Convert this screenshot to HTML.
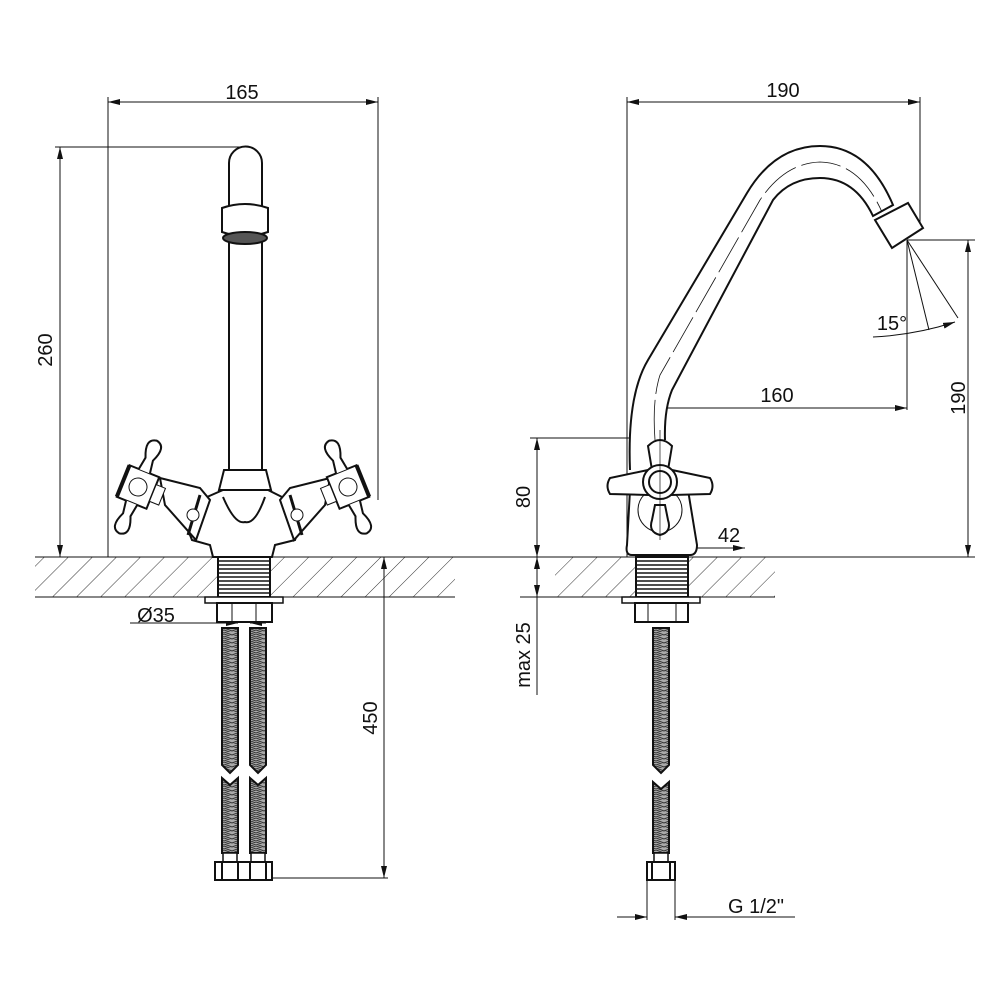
<!DOCTYPE html>
<html><head><meta charset="utf-8"><style>
html,body{margin:0;padding:0;background:#fff}
svg{display:block}
text{font-family:"Liberation Sans",sans-serif;font-size:20px;fill:#111}
</style></head><body>
<svg width="1000" height="1000" viewBox="0 0 1000 1000" xmlns="http://www.w3.org/2000/svg">
<defs>
<pattern id="hatch" patternUnits="userSpaceOnUse" width="17" height="17" patternTransform="rotate(45)">
<line x1="0" y1="0" x2="0" y2="17" stroke="#333" stroke-width="1"/>
</pattern>
<pattern id="hose" patternUnits="userSpaceOnUse" width="16" height="4">
<rect width="16" height="4" fill="#aaa"/>
<path d="M0,0 L8,3 L16,0 M0,2 L8,5 L16,2" stroke="#333" stroke-width="1" fill="none"/>
</pattern>
<pattern id="thread" patternUnits="userSpaceOnUse" width="10" height="4">
<line x1="0" y1="1" x2="10" y2="1" stroke="#222" stroke-width="1.6"/>
</pattern>
<marker id="ar" markerWidth="12" markerHeight="6" refX="12" refY="3" orient="auto" markerUnits="userSpaceOnUse">
<path d="M0,0 L12,3 L0,6 z" fill="#111"/>
</marker>
<marker id="al" markerWidth="12" markerHeight="6" refX="0" refY="3" orient="auto" markerUnits="userSpaceOnUse">
<path d="M12,0 L0,3 L12,6 z" fill="#111"/>
</marker>
</defs>

<g stroke="#111" stroke-width="1" fill="none">
<rect x="35" y="557" width="183" height="40" fill="url(#hatch)" stroke="none"/>
<rect x="270" y="557" width="185" height="40" fill="url(#hatch)" stroke="none"/>
<rect x="555" y="557" width="81" height="40" fill="url(#hatch)" stroke="none"/>
<rect x="688" y="557" width="87" height="40" fill="url(#hatch)" stroke="none"/>
<line x1="35" y1="557" x2="975" y2="557"/>
<line x1="35" y1="597" x2="455" y2="597"/>
<line x1="520" y1="597" x2="775" y2="597"/>

<line x1="108" y1="97" x2="108" y2="557"/>
<line x1="378" y1="97" x2="378" y2="500"/>
<line x1="108" y1="102" x2="378" y2="102" marker-start="url(#al)" marker-end="url(#ar)"/>
<line x1="55" y1="147" x2="245" y2="147"/>
<line x1="60" y1="147" x2="60" y2="557" marker-start="url(#al)" marker-end="url(#ar)"/>
<line x1="384" y1="557" x2="384" y2="878" marker-start="url(#al)" marker-end="url(#ar)"/>
<line x1="272" y1="878" x2="388" y2="878"/>
<line x1="130" y1="623" x2="222" y2="623"/>
<line x1="222" y1="623" x2="238" y2="623" marker-end="url(#ar)"/>
<line x1="266" y1="623" x2="250" y2="623" marker-end="url(#ar)"/>

<path d="M229,470 L229,163 A16.5,16.5 0 0 1 262,163 L262,470" fill="#fff" stroke-width="2"/>
<path d="M222,208 Q245,200 268,208 L268,232 Q245,240 222,232 Z" fill="#fff" stroke-width="2"/>
<ellipse cx="245" cy="238" rx="22" ry="6" fill="#555" stroke-width="2"/>
<path d="M224,470 L266,470 L271,490 L219,490 Z" fill="#fff" stroke-width="2"/>
<path d="M207,497 L223,490 L268,490 L282,497 L300,525 L295,540 L275,545 L272,557 L213,557 L210,545 L192,540 L186,525 Z" fill="#fff" stroke-width="2"/>
<path d="M223,497 Q235,525 245,522 Q255,525 265,497" stroke-width="2"/>
<path d="M160,478 L200,488 L210,500 L196,540 L165,505 Z" fill="#fff" stroke-width="2"/>
<path d="M280,500 L290,488 L330,478 L325,505 L294,540 Z" fill="#fff" stroke-width="2"/>
<line x1="200" y1="495" x2="188" y2="535" stroke-width="3"/>
<line x1="290" y1="495" x2="302" y2="535" stroke-width="3"/>
<circle cx="193" cy="515" r="6" fill="#fff"/>
<circle cx="297" cy="515" r="6" fill="#fff"/>
<g transform="translate(138,487) rotate(22)">
<rect x="-16" y="-17" width="32" height="34" fill="#fff" stroke-width="2"/>
<circle cx="0" cy="0" r="9" fill="#fff"/>
<rect x="16" y="-9" width="10" height="18" fill="#fff"/>
<line x1="-16" y1="-17" x2="-16" y2="17" stroke-width="4"/>
<path d="M-6,-17 L-4,-30 Q-12,-48 0,-50 Q12,-48 4,-30 L6,-17" fill="#fff" stroke-width="2"/>
<path d="M-6,17 L-4,30 Q-12,48 0,50 Q12,48 4,30 L6,17" fill="#fff" stroke-width="2"/>
</g>
<g transform="translate(348,487) rotate(-22)">
<rect x="-16" y="-17" width="32" height="34" fill="#fff" stroke-width="2"/>
<circle cx="0" cy="0" r="9" fill="#fff"/>
<rect x="-26" y="-9" width="10" height="18" fill="#fff"/>
<line x1="16" y1="-17" x2="16" y2="17" stroke-width="4"/>
<path d="M-6,-17 L-4,-30 Q-12,-48 0,-50 Q12,-48 4,-30 L6,-17" fill="#fff" stroke-width="2"/>
<path d="M-6,17 L-4,30 Q-12,48 0,50 Q12,48 4,30 L6,17" fill="#fff" stroke-width="2"/>
</g>
<rect x="218" y="557" width="52" height="40" fill="url(#thread)" stroke-width="2"/>
<rect x="205" y="597" width="78" height="6" fill="#fff" stroke-width="1.5"/>
<rect x="217" y="603" width="55" height="19" fill="#fff" stroke-width="2"/>
<line x1="232" y1="603" x2="232" y2="622"/><line x1="256" y1="603" x2="256" y2="622"/>
<g stroke-width="2">
<path d="M222,628 L238,628 L238,765 L230,773 L222,765 Z" fill="url(#hose)"/>
<path d="M250,628 L266,628 L266,765 L258,773 L250,765 Z" fill="url(#hose)"/>
<path d="M222,778 L230,785 L238,778 L238,853 L222,853 Z" fill="url(#hose)"/>
<path d="M250,778 L258,785 L266,778 L266,853 L250,853 Z" fill="url(#hose)"/>
<rect x="223" y="853" width="14" height="9" fill="#fff" stroke-width="1.5"/>
<rect x="251" y="853" width="14" height="9" fill="#fff" stroke-width="1.5"/>
<rect x="215" y="862" width="57" height="18" fill="#fff"/>
<line x1="222" y1="862" x2="222" y2="880"/><line x1="238" y1="862" x2="238" y2="880"/>
<line x1="250" y1="862" x2="250" y2="880"/><line x1="266" y1="862" x2="266" y2="880"/>
</g>

<line x1="627" y1="97" x2="627" y2="557"/>
<line x1="920" y1="97" x2="920" y2="228"/>
<line x1="627" y1="102" x2="920" y2="102" marker-start="url(#al)" marker-end="url(#ar)"/>
<line x1="907" y1="240" x2="975" y2="240"/>
<line x1="968" y1="240" x2="968" y2="557" marker-start="url(#al)" marker-end="url(#ar)"/>
<line x1="907" y1="240" x2="907" y2="410"/>
<line x1="650" y1="408" x2="907" y2="408" marker-start="url(#al)" marker-end="url(#ar)"/>
<line x1="650" y1="400" x2="650" y2="440"/>
<line x1="907" y1="240" x2="929" y2="330"/>
<line x1="907" y1="240" x2="958" y2="318"/>
<path d="M873,337 Q915,335 955,322" marker-end="url(#ar)"/>
<line x1="530" y1="438" x2="665" y2="438"/>
<line x1="537" y1="438" x2="537" y2="557" marker-start="url(#al)" marker-end="url(#ar)"/>
<line x1="537" y1="557" x2="537" y2="597" marker-start="url(#al)" marker-end="url(#ar)"/>
<line x1="537" y1="597" x2="537" y2="695"/>
<line x1="627" y1="548" x2="745" y2="548" marker-start="url(#al)" marker-end="url(#ar)"/>
<line x1="647" y1="880" x2="647" y2="920"/>
<line x1="675" y1="880" x2="675" y2="920"/>
<line x1="617" y1="917" x2="647" y2="917" marker-end="url(#ar)"/>
<line x1="795" y1="917" x2="675" y2="917" marker-end="url(#ar)"/>

<path d="M630,470 Q627,395 648,360 L747,193 Q775,146 820,146 Q868,146 893,205 L873,216 Q855,178 820,178 Q790,178 773,200 L672,390 Q664,410 665,440" fill="#fff" stroke-width="2"/>
<path d="M655,440 Q652,400 660,375 L760,200 Q785,163 820,162 Q860,163 882,212" stroke-width="0.8" stroke-dasharray="40,6"/>
<path d="M875,220 L908,203 L923,228 L892,248 Z" fill="#fff" stroke-width="2"/>
<path d="M630,490 L688,490 L697,545 Q697,555 690,555 L632,555 Q625,555 627,545 Z" fill="#fff" stroke-width="2"/>
<circle cx="660" cy="510" r="22" fill="#fff"/>
<path d="M655,505 L652,520 Q648,532 660,535 Q672,532 668,520 L665,505 Z" fill="#fff" stroke-width="2"/>
<path d="M648,470 L610,478 Q605,486 610,494 L648,495 Z" fill="#fff" stroke-width="2"/>
<path d="M672,470 L710,478 Q715,486 710,494 L672,495 Z" fill="#fff" stroke-width="2"/>
<path d="M652,470 L648,446 Q660,434 672,446 L668,470 Z" fill="#fff" stroke-width="2"/>
<circle cx="660" cy="482" r="17" fill="#fff" stroke-width="2"/>
<circle cx="660" cy="482" r="11" fill="#fff" stroke-width="2"/>
<line x1="660" y1="430" x2="660" y2="540" stroke-width="0.7"/>
<rect x="636" y="557" width="52" height="40" fill="url(#thread)" stroke-width="2"/>
<rect x="622" y="597" width="78" height="6" fill="#fff" stroke-width="1.5"/>
<rect x="635" y="603" width="53" height="19" fill="#fff" stroke-width="2"/>
<line x1="648" y1="603" x2="648" y2="622"/><line x1="676" y1="603" x2="676" y2="622"/>
<g stroke-width="2">
<path d="M653,628 L669,628 L669,765 L661,773 L653,765 Z" fill="url(#hose)"/>
<path d="M653,782 L661,789 L669,782 L669,853 L653,853 Z" fill="url(#hose)"/>
<rect x="654" y="853" width="14" height="9" fill="#fff" stroke-width="1.5"/>
<rect x="647" y="862" width="28" height="18" fill="#fff"/>
<line x1="652" y1="862" x2="652" y2="880"/><line x1="670" y1="862" x2="670" y2="880"/>
</g>
</g>

<text x="242" y="99" text-anchor="middle">165</text>
<text x="783" y="97" text-anchor="middle">190</text>
<text transform="translate(52,350) rotate(-90)" text-anchor="middle">260</text>
<text x="156" y="622" text-anchor="middle">Ø35</text>
<text transform="translate(377,718) rotate(-90)" text-anchor="middle">450</text>
<text x="777" y="402" text-anchor="middle">160</text>
<text x="892" y="330" text-anchor="middle">15°</text>
<text transform="translate(965,398) rotate(-90)" text-anchor="middle">190</text>
<text transform="translate(530,497) rotate(-90)" text-anchor="middle">80</text>
<text x="729" y="542" text-anchor="middle">42</text>
<text transform="translate(530,655) rotate(-90)" text-anchor="middle">max 25</text>
<text x="756" y="913" text-anchor="middle">G 1/2"</text>
</svg>
</body></html>
